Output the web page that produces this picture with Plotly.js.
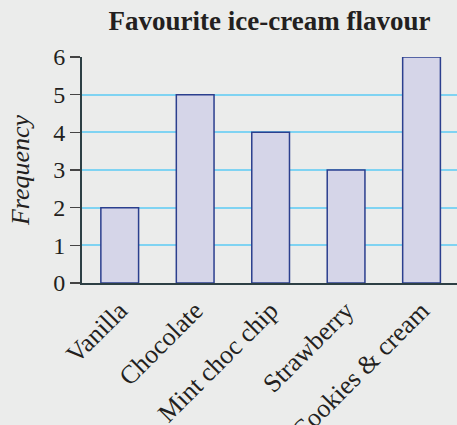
<!DOCTYPE html>
<html>
<head>
<meta charset="utf-8">
<script src="https://cdn.plot.ly/plotly-3.0.1.min.js"></script>
<style>html,body{margin:0;padding:0;background:#ebeceb;}#chart{width:457px;height:425px;}</style>
</head>
<body>
<div id="chart"></div>
<script>
const flavours = ["Vanilla", "Chocolate", "Mint choc chip", "Strawberry", "Cookies & cream"];
const frequency = [2, 5, 4, 3, 6];
const yTicks = [0, 1, 2, 3, 4, 5, 6];

const serif = "Liberation Serif, Times New Roman, serif";
const trace = {
  type: "bar",
  x: flavours,
  y: frequency,
  width: 0.5,
  marker: {color: "#d5d5e8", line: {color: "#2b3f8e", width: 1.5}},
  hoverinfo: "none"
};
const layout = {
  width: 457, height: 425,
  margin: {l: 82, r: 0, t: 57, b: 142},
  paper_bgcolor: "#ebeceb",
  plot_bgcolor: "#ebeceb",
  showlegend: false,
  title: {
    text: "<b>Favourite ice-cream flavour</b>",
    font: {family: serif, size: 27, color: "#231f20"},
    xref: "paper", x: 0.5, xanchor: "center",
    yref: "container", y: 0.975, yanchor: "top"
  },
  xaxis: {
    type: "category",
    range: [-0.5, 4.47],
    showline: true, linecolor: "#2d3f44", linewidth: 2,
    ticks: "", showgrid: false, zeroline: false,
    tickangle: -45,
    automargin: false,
    tickfont: {family: serif, size: 26, color: "#231f20"}
  },
  yaxis: {
    range: [0, 6],
    tickvals: yTicks,
    ticktext: yTicks.map(String),
    showline: true, linecolor: "#2d3f44", linewidth: 2,
    ticks: "outside", ticklen: 10, tickwidth: 1.5, tickcolor: "#444",
    showgrid: true, gridcolor: "#7fd3f2", gridwidth: 2,
    zeroline: false,
    automargin: false,
    tickfont: {family: serif, size: 24, color: "#231f20"},
    title: {text: "<i>Frequency</i>", font: {family: serif, size: 26, color: "#231f20"}, standoff: 16}
  }
};
Plotly.newPlot("chart", [trace], layout, {displayModeBar: false, staticPlot: true});
</script>
</body>
</html>
